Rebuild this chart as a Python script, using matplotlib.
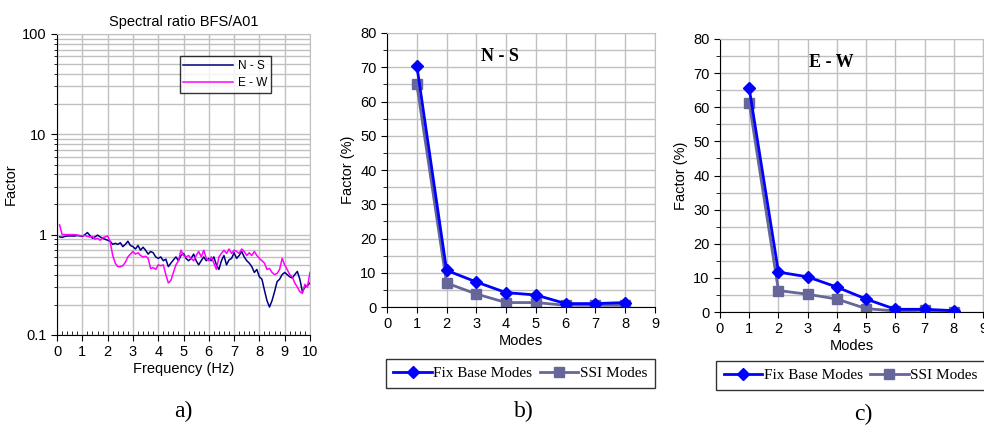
import numpy as np
import matplotlib
matplotlib.use("Agg")
import matplotlib.pyplot as plt
from matplotlib.ticker import MultipleLocator, LogLocator, NullFormatter

# panel a: spectral ratio, every 0.1 Hz
freq = [round(0.1 * i, 1) for i in range(1, 101)]
ns = [0.95, 0.94, 0.96, 0.97, 0.97, 0.97, 0.97, 0.98, 0.97, 0.96,
      1.00, 1.05, 0.98, 0.92, 0.95, 0.99, 0.95, 0.92, 0.90, 0.88,
      0.86, 0.80, 0.82, 0.80, 0.83, 0.76, 0.80, 0.86, 0.78, 0.76,
      0.72, 0.78, 0.70, 0.75, 0.70, 0.64, 0.68, 0.66, 0.60, 0.58,
      0.60, 0.55, 0.57, 0.48, 0.52, 0.56, 0.60, 0.55, 0.62, 0.65,
      0.58, 0.55, 0.58, 0.64, 0.55, 0.50, 0.55, 0.60, 0.55, 0.58,
      0.55, 0.60, 0.50, 0.45, 0.55, 0.62, 0.50, 0.56, 0.58, 0.66,
      0.58, 0.62, 0.68, 0.60, 0.55, 0.52, 0.48, 0.42, 0.45, 0.38,
      0.36, 0.28, 0.22, 0.19, 0.22, 0.27, 0.34, 0.36, 0.40, 0.42,
      0.40, 0.38, 0.37, 0.40, 0.43, 0.36, 0.27, 0.30, 0.31, 0.33]
ew = [1.25, 1.00, 1.00, 1.00, 1.00, 1.00, 1.00, 0.99, 0.98, 0.97,
      0.98, 0.96, 0.95, 0.96, 0.90, 0.92, 0.88, 0.93, 0.95, 0.97,
      0.85, 0.62, 0.52, 0.48, 0.48, 0.49, 0.53, 0.60, 0.64, 0.68,
      0.64, 0.66, 0.62, 0.60, 0.61, 0.58, 0.46, 0.47, 0.45, 0.50,
      0.49, 0.50, 0.40, 0.33, 0.35, 0.42, 0.50, 0.55, 0.70, 0.62,
      0.60, 0.62, 0.58, 0.55, 0.62, 0.68, 0.60, 0.70, 0.58, 0.55,
      0.60, 0.52, 0.45, 0.60, 0.65, 0.70, 0.65, 0.72, 0.65, 0.70,
      0.68, 0.65, 0.72, 0.68, 0.62, 0.66, 0.62, 0.68, 0.62, 0.58,
      0.55, 0.52, 0.45, 0.46, 0.42, 0.40, 0.41, 0.45, 0.58, 0.50,
      0.45, 0.40, 0.38, 0.33, 0.30, 0.27, 0.26, 0.32, 0.30, 0.42]

# panels b and c: modal factors
modes = [1, 2, 3, 4, 5, 6, 7, 8]
fix_ns = [70.5, 10.7, 7.3, 4.2, 3.5, 1.0, 1.0, 1.3]
ssi_ns = [65.0, 7.0, 3.8, 1.3, 1.3, 0.5, 0.5, 0.5]
fix_ew = [65.5, 11.7, 10.3, 7.3, 3.8, 0.8, 0.8, 0.4]
ssi_ew = [61.3, 6.3, 5.2, 3.8, 1.0, 0.3, 0.5, 0.1]

sans = "Liberation Sans"
serif = "Liberation Serif"
plt.rcParams["font.family"] = sans
grid_c = "#c0c0c0"

fig = plt.figure(figsize=(9.84, 4.28), dpi=100)

# ---- a)
ax = fig.add_axes([0.058, 0.2173, 0.257, 0.7033])
ax.plot(freq, ns, color="#000080", lw=1.1, label="N - S")
ax.plot(freq, ew, color="#ff00ff", lw=1.1, label="E - W")
ax.set_yscale("log")
ax.set_ylim(0.1, 100)
ax.set_xlim(0, 10)
ax.set_yticks([0.1, 1, 10, 100])
ax.set_yticklabels(["0.1", "1", "10", "100"])
ax.yaxis.set_minor_locator(LogLocator(base=10, subs=np.arange(2, 10)))
ax.yaxis.set_minor_formatter(NullFormatter())
ax.xaxis.set_major_locator(MultipleLocator(1))
ax.xaxis.set_minor_locator(MultipleLocator(0.2))
ax.grid(True, which="major", color=grid_c, lw=1.0)
ax.grid(True, which="minor", axis="y", color=grid_c, lw=1.0)
ax.set_axisbelow(True)
ax.tick_params(axis="both", which="major", labelsize=10.5, length=4, color="black")
ax.tick_params(axis="x", which="minor", direction="in", length=3)
ax.tick_params(axis="y", which="minor", length=2)
for s in ["top", "right"]:
    ax.spines[s].set_color(grid_c)
ax.set_xlabel("Frequency (Hz)", fontsize=10.5, labelpad=2)
ax.set_ylabel("Factor", fontsize=10.5, labelpad=3)
ax.set_title("Spectral ratio BFS/A01", fontsize=10.5, pad=6)
leg = ax.legend(loc="upper right", bbox_to_anchor=(0.868, 0.945), fontsize=8.5,
                frameon=True, fancybox=False, edgecolor="black",
                handlelength=4.2, borderpad=0.3, labelspacing=0.45, handletextpad=0.4)
leg.get_frame().set_linewidth(1.0)
fig.text(0.186, 0.025, "a)", fontsize=17, family=serif, ha="center")


def mode_panel(rect, fix, ssi, tag, leg_y):
    ax = fig.add_axes(rect)
    ax.plot(modes, fix, color="#0000ff", lw=2, marker="D", ms=6.5,
            label="Fix Base Modes", zorder=3)
    ax.plot(modes, ssi, color="#666699", lw=2, marker="s", ms=6.5,
            label="SSI Modes", zorder=2)
    ax.set_xlim(0, 9)
    ax.set_ylim(0, 80)
    ax.xaxis.set_major_locator(MultipleLocator(1))
    ax.yaxis.set_major_locator(MultipleLocator(10))
    ax.yaxis.set_minor_locator(MultipleLocator(5))
    ax.grid(True, which="both", color=grid_c, lw=1.0)
    ax.set_axisbelow(True)
    ax.tick_params(axis="both", which="major", labelsize=10.5, length=4)
    ax.tick_params(axis="y", which="minor", length=3)
    for s in ["top", "right"]:
        ax.spines[s].set_color(grid_c)
    ax.set_xlabel("Modes", fontsize=10.5, labelpad=2)
    ax.set_ylabel("Factor (%)", fontsize=10.5, labelpad=4)
    ax.text(3.8, 73, tag, fontsize=13, fontweight="bold", family=serif,
            ha="center", va="center")
    leg = ax.legend(loc="upper center", bbox_to_anchor=(0.497, leg_y), ncol=2,
                    prop={"family": serif, "size": 11},
                    frameon=True, fancybox=False, edgecolor="black",
                    handlelength=2.5, columnspacing=0.5, handletextpad=0.1,
                    borderpad=0.5, borderaxespad=0.0)
    leg.get_frame().set_linewidth(1.0)
    return ax


mode_panel([0.3933, 0.2827, 0.2724, 0.6402], fix_ns, ssi_ns, "N - S", -0.19)
fig.text(0.532, 0.025, "b)", fontsize=17, family=serif, ha="center")
mode_panel([0.7317, 0.271, 0.2673, 0.6379], fix_ew, ssi_ew, "E - W", -0.18)
fig.text(0.877, 0.018, "c)", fontsize=17, family=serif, ha="center")

fig.savefig("out.png", dpi=100)
